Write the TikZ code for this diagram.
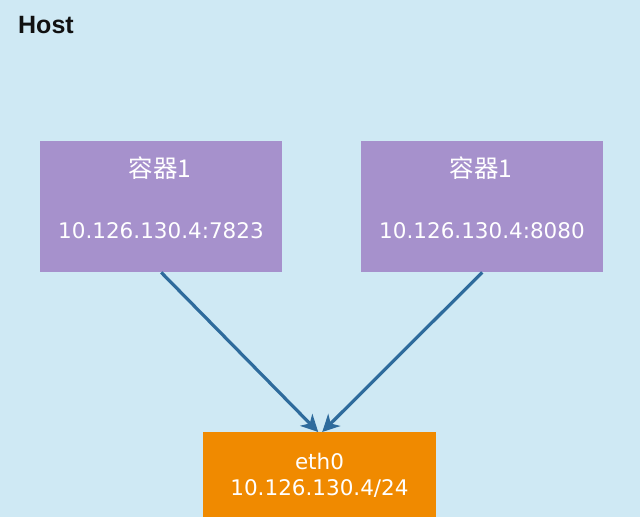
\documentclass[tikz,border=0pt]{standalone}
\usepackage{fontspec}
\setmainfont{DejaVu Sans}
\newfontfamily\cjk{Noto Sans CJK SC}
\newfontfamily\hostfont{Liberation Sans}
\usetikzlibrary{arrows.meta,calc}
\definecolor{hostbg}{HTML}{CFE9F4}
\definecolor{boxpurple}{HTML}{A691CC}
\definecolor{ethorange}{HTML}{F08A00}
\definecolor{arrowblue}{HTML}{2E6B9C}
\definecolor{hosttext}{HTML}{111111}
\tikzset{
  ctr/.style={fill=boxpurple, draw=none, minimum width=242pt, minimum height=131pt, inner sep=0pt, anchor=north west},
  ethbox/.style={fill=ethorange, draw=none, minimum width=233pt, minimum height=85pt, inner sep=0pt, anchor=north west},
  boxtext/.style={text=white, font=\fontsize{21.5}{24}\selectfont, inner sep=0pt},
  cjktext/.style={text=white, font=\cjk\fontsize{24.5}{28}\selectfont, inner sep=0pt},
  link/.style={draw=arrowblue, line width=3.2pt, -{Stealth[length=17pt,width=17pt,inset=5pt]}}
}
\begin{document}
\begin{tikzpicture}[x=1pt,y=-1pt]
\fill[hostbg] (0,0) rectangle (640,517);
\useasboundingbox (0,0) rectangle (640,517);
\node[anchor=west, text=hosttext, font=\hostfont\bfseries\fontsize{25}{28}\selectfont, inner sep=0pt] (host) at (18,25) {Host};
\node[ctr] (c1) at (40,141) {};
\node[ctr] (c2) at (361,141) {};
\node[ethbox] (eth) at (203,432) {};
\node[cjktext] (c1t) at (160,168) {容器1};
\node[boxtext] (c1a) at (161,231) {10.126.130.4:7823};
\node[cjktext] (c2t) at (481,168) {容器1};
\node[boxtext] (c2a) at (482,231) {10.126.130.4:8080};
\node[boxtext] (etht) at (319.5,461) {eth0};
\node[boxtext] (etha) at (319.5,489) {10.126.130.4/24};
\coordinate (e1) at ($(eth.north)+(-1.5,0)$);
\coordinate (e2) at ($(eth.north)+(2.5,0)$);
\draw[link] (c1.south) -- (e1);
\draw[link] (c2.south) -- (e2);
\end{tikzpicture}
\end{document}
